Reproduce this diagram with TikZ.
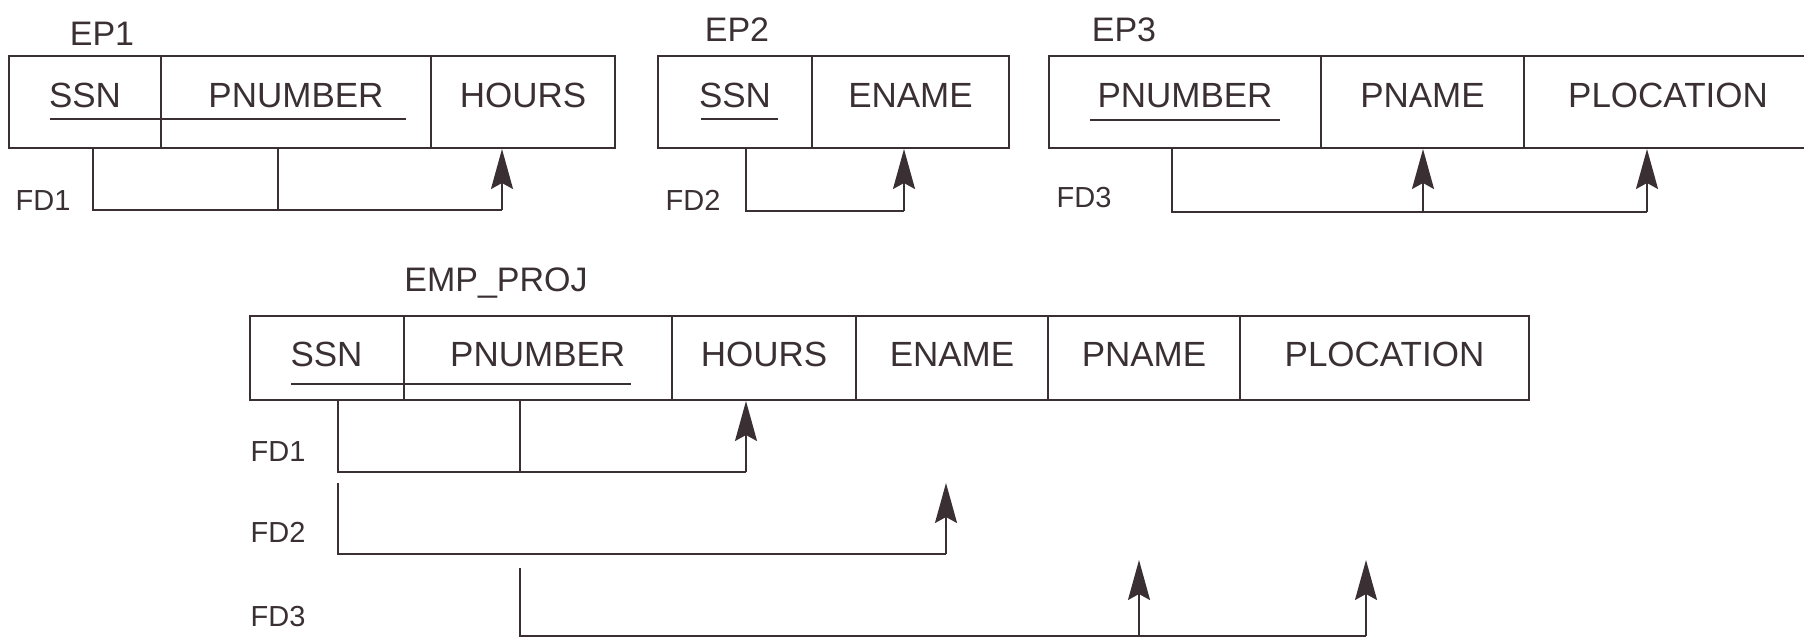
\documentclass[tikz,border=0pt]{standalone}
\usepackage{fontspec}
\setmainfont{Liberation Sans}
\usetikzlibrary{arrows.meta}
\definecolor{ink}{RGB}{58,48,52}
\begin{document}
\begin{tikzpicture}[x=0.5pt,y=-0.5pt,color=ink,line width=1pt,
  cellA/.style={draw, inner sep=0pt, minimum height=46pt, text height=12.5pt, text depth=7pt, font=\fontsize{17.5}{20}\selectfont},
  cellB/.style={draw, inner sep=0pt, minimum height=42pt, text height=12.5pt, text depth=4pt, font=\fontsize{17.5}{20}\selectfont},
  title/.style={inner sep=0pt, text height=12.2pt, text depth=0pt, font=\fontsize{17}{20}\selectfont},
  fdlabel/.style={inner sep=0pt, text height=10.4pt, text depth=0pt, font=\fontsize{14.5}{17}\selectfont},
  keyline/.style={line width=1pt},
  fdline/.style={line width=1pt},
  fdarrow/.style={line width=1pt, -{Stealth[length=20pt,width=11pt,inset=3pt]}}]
\useasboundingbox (0,0) rectangle (1804,638);

% ---------- EP1 ----------
\node[title] (ep1) at (102,33) {EP1};
\node[cellA, minimum width=76pt]  (e1a) at (85,102)  {SSN};
\node[cellA, minimum width=135pt] (e1b) at (296,102) {PNUMBER};
\node[cellA, minimum width=92pt]  (e1c) at (523,102) {HOURS};
\draw[keyline] (50,119) -- (406,119);
\node[fdlabel] (fd11) at (43,200) {FD1};
\coordinate (f11) at (93,210);
\coordinate (f12) at (278,210);
\coordinate (f13) at (502,210);
\draw[fdline] (e1a.south -| f11) -- (f11) -- (f13);
\draw[fdline] (e1b.south -| f12) -- (f12);
\draw[fdarrow] (f13) -- (e1c.south -| f13);

% ---------- EP2 ----------
\node[title] (ep2) at (737,29) {EP2};
\node[cellA, minimum width=77pt]   (e2a) at (735,102)   {SSN};
\node[cellA, minimum width=98.5pt] (e2b) at (910.5,102) {ENAME};
\draw[keyline] (701,119) -- (778,119);
\node[fdlabel] (fd12) at (693,200) {FD2};
\coordinate (f21) at (746,211);
\coordinate (f22) at (904,211);
\draw[fdline] (e2a.south -| f21) -- (f21) -- (f22);
\draw[fdarrow] (f22) -- (e2b.south -| f22);

% ---------- EP3 ----------
\node[title] (ep3) at (1124,29) {EP3};
\node[cellA, minimum width=136pt]   (e3a) at (1185,102)   {PNUMBER};
\node[cellA, minimum width=101.5pt] (e3b) at (1422.5,102) {PNAME};
\node[cellA, minimum width=144pt]   (e3c) at (1668,102)   {PLOCATION};
\draw[keyline] (1090,120) -- (1280,120);
\node[fdlabel] (fd13) at (1084,197) {FD3};
\coordinate (f31) at (1172,212);
\coordinate (f32) at (1423,212);
\coordinate (f33) at (1647,212);
\draw[fdline] (e3a.south -| f31) -- (f31) -- (f33);
\draw[fdarrow] (f32) -- (e3b.south -| f32);
\draw[fdarrow] (f33) -- (e3c.south -| f33);

% ---------- EMP_PROJ ----------
\node[title] (ep) at (496,279) {EMP\_PROJ};
\node[cellB, minimum width=77pt]     (pa) at (326.5,358)  {SSN};
\node[cellB, minimum width=134.25pt] (pb) at (537.75,358) {PNUMBER};
\node[cellB, minimum width=92pt]     (pc) at (764,358)    {HOURS};
\node[cellB, minimum width=96pt]     (pd) at (952,358)    {ENAME};
\node[cellB, minimum width=96pt]     (pe) at (1144,358)   {PNAME};
\node[cellB, minimum width=144.5pt]  (pf) at (1384.5,358) {PLOCATION};
\draw[keyline] (291,384) -- (631,384);

\node[fdlabel] (fd1) at (278,451) {FD1};
\node[fdlabel] (fd2) at (278,532) {FD2};
\node[fdlabel] (fd3) at (278,616) {FD3};

% FD1
\coordinate (g11) at (338,472);
\coordinate (g12) at (520,472);
\coordinate (g13) at (746,472);
\draw[fdline] (pa.south -| g11) -- (g11) -- (g13);
\draw[fdline] (pb.south -| g12) -- (g12);
\draw[fdarrow] (g13) -- (pc.south -| g13);

% FD2
\coordinate (g21) at (338,483);
\coordinate (g22) at (338,554);
\coordinate (g23) at (946,554);
\coordinate (g24) at (946,483);
\draw[fdline] (g21) -- (g22) -- (g23);
\draw[fdarrow] (g23) -- (g24);

% FD3
\coordinate (g31) at (520,568);
\coordinate (g32) at (520,636);
\coordinate (g33) at (1139,636);
\coordinate (g34) at (1366,636);
\coordinate (g35) at (1139,560);
\coordinate (g36) at (1366,560);
\draw[fdline] (g31) -- (g32) -- (g34);
\draw[fdarrow] (g33) -- (g35);
\draw[fdarrow] (g34) -- (g36);
\end{tikzpicture}
\end{document}
